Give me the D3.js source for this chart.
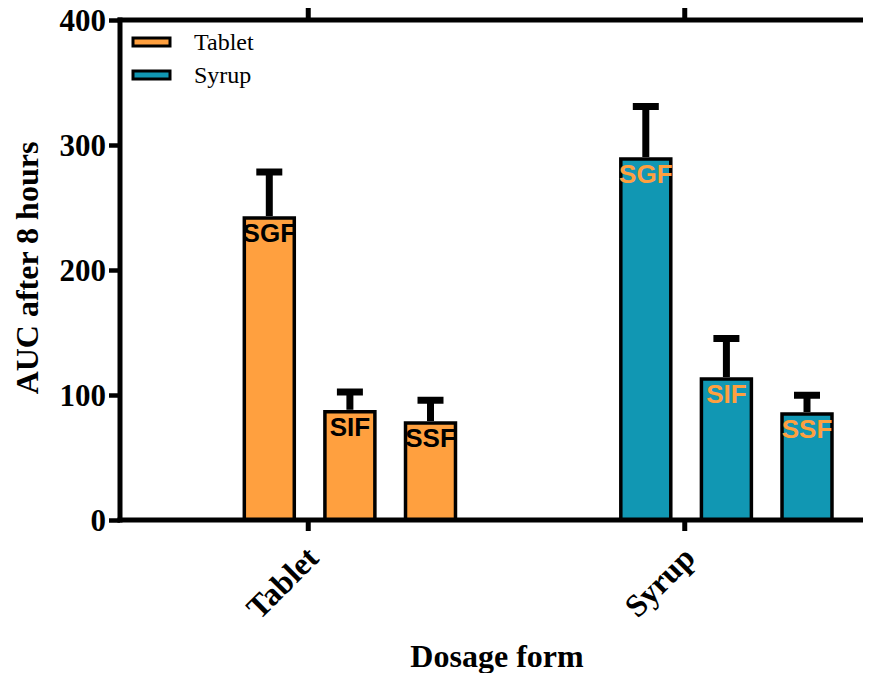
<!DOCTYPE html>
<html><head><meta charset="utf-8">
<script src="https://cdn.jsdelivr.net/npm/d3@7"></script>
<style>
body{margin:0;background:#fff;}
svg{display:block;}
</style></head>
<body>
<svg id="chart" width="873" height="673"></svg>
<script>
const groups = ["Tablet", "Syrup"];
const media = ["SGF", "SIF", "SSF"];
const tabletMeans = [241.6, 86.6, 77.6];
const tabletErr = [36.8, 15.8, 18.2];
const syrupMeans = [288.8, 112.8, 84.8];
const syrupErr = [42.0, 32.4, 15.0];
const yTicks = [0, 100, 200, 300, 400];
const colors = {Tablet: "#FFA03F", Syrup: "#1197B3"};
const labelColors = {Tablet: "#000000", Syrup: "#FFA03F"};

const data = [];
groups.forEach((g, gi) => {
  const m = gi === 0 ? tabletMeans : syrupMeans;
  const e = gi === 0 ? tabletErr : syrupErr;
  media.forEach((s, si) => data.push({group: g, medium: s, value: m[si], err: e[si]}));
});

const svg = d3.select("#chart");
const mLeft = 120, mRight = 863, mTop = 20, mBottom = 520;
const serif = "'Liberation Serif','Times New Roman',serif";
const sans = "'Liberation Sans',Arial,sans-serif";

const y = d3.scaleLinear().domain([0, 400]).range([mBottom, mTop]);
const x0 = d3.scaleBand().domain(groups).range([mLeft, 873]);
const x1 = d3.scaleBand().domain(media).range([109, 350.8]).paddingInner(0.38).paddingOuter(0.19);

// bars
const bars = svg.append("g");
bars.selectAll("rect").data(data).join("rect")
  .attr("x", d => x0(d.group) + x1(d.medium))
  .attr("width", x1.bandwidth())
  .attr("y", d => y(d.value))
  .attr("height", d => y(0) - y(d.value))
  .attr("fill", d => colors[d.group])
  .attr("stroke", "#000").attr("stroke-width", 3.5);

// error bars
const eb = svg.append("g").attr("stroke", "#000").attr("stroke-width", 7);
eb.selectAll("line.stem").data(data).join("line").attr("class", "stem")
  .attr("x1", d => x0(d.group) + x1(d.medium) + x1.bandwidth() / 2)
  .attr("x2", d => x0(d.group) + x1(d.medium) + x1.bandwidth() / 2)
  .attr("y1", d => y(d.value) - 2)
  .attr("y2", d => y(d.value + d.err));
eb.selectAll("line.cap").data(data).join("line").attr("class", "cap")
  .attr("x1", d => x0(d.group) + x1(d.medium) + x1.bandwidth() / 2 - 13)
  .attr("x2", d => x0(d.group) + x1(d.medium) + x1.bandwidth() / 2 + 13)
  .attr("y1", d => y(d.value + d.err))
  .attr("y2", d => y(d.value + d.err));

// labels inside bars
svg.append("g").selectAll("text").data(data).join("text")
  .attr("x", d => x0(d.group) + x1(d.medium) + x1.bandwidth() / 2)
  .attr("y", d => y(d.value) + 24)
  .attr("text-anchor", "middle")
  .attr("font-family", sans).attr("font-weight", "bold").attr("font-size", 26)
  .attr("fill", d => labelColors[d.group])
  .text(d => d.medium);

// axes
const axisStroke = 5;
const yAxis = svg.append("g").attr("transform", `translate(${mLeft},0)`)
  .call(d3.axisLeft(y).tickValues(yTicks).tickSize(11).tickPadding(3).tickSizeOuter(0));
yAxis.select(".domain").remove();
yAxis.selectAll(".tick line").attr("stroke", "#000").attr("stroke-width", 4.5);
yAxis.selectAll(".tick text").attr("font-family", serif).attr("font-weight", "bold")
  .attr("font-size", 31).attr("fill", "#000").attr("dy", "0.34em");

const xAxis = svg.append("g").attr("transform", `translate(0,${mBottom})`)
  .call(d3.axisBottom(x0).tickSize(11).tickSizeOuter(0).tickFormat(""));
xAxis.select(".domain").remove();
xAxis.selectAll(".tick line").attr("stroke", "#000").attr("stroke-width", 5);

const xTop = svg.append("g").attr("transform", `translate(0,${mTop})`)
  .call(d3.axisTop(x0).tickSize(12).tickSizeOuter(0).tickFormat(""));
xTop.select(".domain").remove();
xTop.selectAll(".tick line").attr("stroke", "#000").attr("stroke-width", 5);

// frame lines
svg.append("line").attr("x1", mLeft).attr("x2", mLeft).attr("y1", mTop - 2.5).attr("y2", mBottom + 2.5)
  .attr("stroke", "#000").attr("stroke-width", axisStroke);
svg.append("line").attr("x1", mLeft - 2.5).attr("x2", mRight).attr("y1", mBottom).attr("y2", mBottom)
  .attr("stroke", "#000").attr("stroke-width", axisStroke);
svg.append("line").attr("x1", mLeft - 2.5).attr("x2", mRight).attr("y1", mTop).attr("y2", mTop)
  .attr("stroke", "#000").attr("stroke-width", axisStroke);

// x tick labels rotated
svg.append("g").selectAll("text").data(groups).join("text")
  .attr("transform", d => `translate(${x0(d) + x0.bandwidth() / 2 + 12},560) rotate(-45)`)
  .attr("text-anchor", "end")
  .attr("font-family", serif).attr("font-weight", "bold").attr("font-size", 32)
  .text(d => d);

// axis titles
svg.append("text").attr("transform", "translate(38,268) rotate(-90)")
  .attr("text-anchor", "middle")
  .attr("font-family", serif).attr("font-weight", "bold").attr("font-size", 32)
  .text("AUC after 8 hours");
svg.append("text").attr("x", 497).attr("y", 667)
  .attr("text-anchor", "middle")
  .attr("font-family", serif).attr("font-weight", "bold").attr("font-size", 32)
  .text("Dosage form");

// legend
const leg = svg.append("g");
const legItems = leg.selectAll("g").data(groups).join("g")
  .attr("transform", (d, i) => `translate(133,${42 + i * 33})`);
legItems.append("rect").attr("x", 0).attr("y", -4).attr("width", 37).attr("height", 8)
  .attr("fill", d => colors[d]).attr("stroke", "#000").attr("stroke-width", 3);
legItems.append("text").attr("x", 61).attr("y", 8)
  .attr("font-family", serif).attr("font-size", 24).attr("fill", "#000")
  .text(d => d);
</script>
</body></html>
